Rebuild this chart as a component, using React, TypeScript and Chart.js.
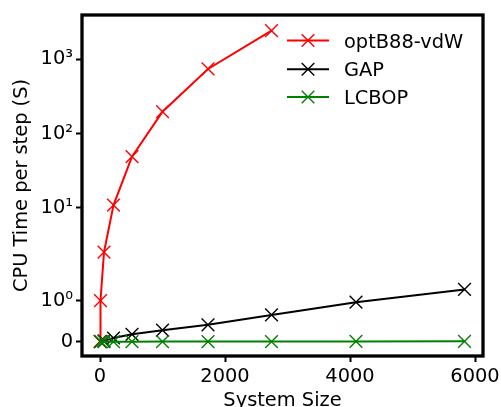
import React, { useEffect, useRef } from 'react';
import { Chart, LinearScale, registerables } from 'chart.js';

// ---------- data ----------
const SERIES_LABELS = ['optB88-vdW', 'GAP', 'LCBOP'];
const SERIES_COLORS = ['#ff0000', '#000000', '#008000'];

const dftSizes = [1, 8, 64, 216, 512, 1000, 1728, 2744];
const dftTimes = [0.01, 1.0, 2.5, 10.8, 48.7, 197, 743, 2440];

const potSizes = [8, 64, 216, 512, 1000, 1728, 2744, 4096, 5832];
const gapTimes = [0.003, 0.02, 0.09, 0.18, 0.28, 0.41, 0.65, 0.96, 1.27];
const lcbopTimes = [0.0001, 0.0003, 0.0008, 0.001, 0.002, 0.003, 0.004, 0.006, 0.008];

const X_TICKS = [0, 2000, 4000, 6000];
const Y_TICKS = [0, 1, 10, 100, 1000];
const Y_TICK_LABELS = ['0', '10⁰', '10¹', '10²', '10³'];

const X_TITLE = 'System Size';
const Y_TITLE = 'CPU Time per step (S)';

// ---------- symlog scale (linthresh 2, base 10, linscale 1) ----------
const LINTHRESH = 2;
const LINSCALE_ADJ = 1 / (1 - 1 / 10);
function symlog(v: number) {
  const a = Math.abs(v);
  if (a <= LINTHRESH) return (v / LINTHRESH) * LINSCALE_ADJ;
  return Math.sign(v) * (LINSCALE_ADJ + Math.log10(a / LINTHRESH));
}
function symexp(t: number) {
  const a = Math.abs(t);
  if (a <= LINSCALE_ADJ) return (t / LINSCALE_ADJ) * LINTHRESH;
  return Math.sign(t) * LINTHRESH * Math.pow(10, a - LINSCALE_ADJ);
}

class SymlogScale extends LinearScale {
  static id = 'symlog';
  static defaults = {};
  buildTicks() {
    return Y_TICKS.map((v) => ({ value: v }));
  }
  getPixelForValue(value: number) {
    if (value === null || value === undefined || isNaN(value)) return NaN;
    const t0 = symlog((this as any).min);
    const t1 = symlog((this as any).max);
    return this.getPixelForDecimal((symlog(value) - t0) / (t1 - t0));
  }
  getValueForPixel(pixel: number) {
    const t0 = symlog((this as any).min);
    const t1 = symlog((this as any).max);
    return symexp(t0 + this.getDecimalForPixel(pixel) * (t1 - t0));
  }
}

Chart.register(...registerables, SymlogScale as any);

const FONT_FAMILY = "'DejaVu Sans', 'Liberation Sans', sans-serif";
const FONT_SIZE = 19.4;

const frameAndLegend = {
  id: 'frameAndLegend',
  afterDatasetsDraw(chart: any) {
    const { ctx, chartArea } = chart;
    ctx.save();
    ctx.strokeStyle = '#000';
    ctx.lineWidth = 3.3;
    ctx.strokeRect(chartArea.left, chartArea.top, chartArea.right - chartArea.left, chartArea.bottom - chartArea.top);

    // legend (line + marker + text), matplotlib style
    const x0 = 287;
    const x1 = 329;
    const rowY = [40.5, 69.3, 97];
    ctx.font = `${FONT_SIZE}px ${FONT_FAMILY}`;
    ctx.textAlign = 'left';
    ctx.textBaseline = 'alphabetic';
    chart.data.datasets.forEach((ds: any, i: number) => {
      const y = rowY[i];
      ctx.strokeStyle = ds.borderColor;
      ctx.lineWidth = 2;
      ctx.beginPath();
      ctx.moveTo(x0, y);
      ctx.lineTo(x1, y);
      ctx.stroke();
      const cx = (x0 + x1) / 2;
      const h = 6.3;
      ctx.lineWidth = 1.4;
      ctx.beginPath();
      ctx.moveTo(cx - h, y - h);
      ctx.lineTo(cx + h, y + h);
      ctx.moveTo(cx - h, y + h);
      ctx.lineTo(cx + h, y - h);
      ctx.stroke();
      ctx.fillStyle = '#000';
      ctx.fillText(ds.label, 344, y + 7);
    });
    ctx.restore();
  },
};

function makeDataset(i: number, xs: number[], ys: number[], order: number) {
  return {
    label: SERIES_LABELS[i],
    data: xs.map((x, k) => ({ x, y: ys[k] })),
    borderColor: SERIES_COLORS[i],
    backgroundColor: SERIES_COLORS[i],
    pointBorderColor: SERIES_COLORS[i],
    pointBackgroundColor: SERIES_COLORS[i],
    pointStyle: 'crossRot',
    pointRadius: 9,
    pointBorderWidth: 1.4,
    borderWidth: 2,
    fill: false,
    tension: 0,
    order,
  };
}

export default function App() {
  const ref = useRef<HTMLCanvasElement>(null);
  useEffect(() => {
    if (!ref.current) return;
    const chart = new Chart(ref.current, {
      type: 'line',
      data: {
        datasets: [
          makeDataset(0, dftSizes, dftTimes, 2),
          makeDataset(1, potSizes, gapTimes, 1),
          makeDataset(2, potSizes, lcbopTimes, 0),
        ] as any,
      },
      options: {
        animation: false,
        responsive: false,
        events: [],
        layout: { padding: { left: 0, top: 15, right: 18, bottom: 0 } },
        plugins: { legend: { display: false }, tooltip: { enabled: false } },
        scales: {
          x: {
            type: 'linear',
            min: -288,
            max: 6128,
            afterBuildTicks: (s: any) => {
              s.ticks = X_TICKS.map((v) => ({ value: v }));
            },
            afterFit: (s: any) => {
              s.height = 51;
              s.paddingLeft = 0;
              s.paddingRight = 0;
            },
            border: { display: false },
            grid: {
              display: true,
              drawOnChartArea: false,
              drawTicks: true,
              tickLength: 6,
              tickWidth: 2,
              tickColor: '#000',
            },
            ticks: {
              autoSkip: false,
              maxRotation: 0,
              padding: 3,
              color: '#000',
              font: { family: FONT_FAMILY, size: FONT_SIZE },
              callback: (v: any) => String(v),
            },
            title: {
              display: true,
              text: X_TITLE,
              color: '#000',
              font: { family: FONT_FAMILY, size: FONT_SIZE },
              padding: { top: 0, bottom: -6 },
            },
          },
          y: {
            type: 'symlog' as any,
            min: symexp(-0.193),
            max: symexp(4.409),
            afterFit: (s: any) => {
              s.width = 82;
              s.paddingTop = 0;
              s.paddingBottom = 0;
            },
            border: { display: false },
            grid: {
              display: true,
              drawOnChartArea: false,
              drawTicks: true,
              tickLength: 6,
              tickWidth: 2,
              tickColor: '#000',
            },
            ticks: {
              autoSkip: false,
              padding: 3,
              color: '#000',
              font: { family: FONT_FAMILY, size: FONT_SIZE },
              callback: (v: any) => {
                const idx = Y_TICKS.indexOf(Number(v));
                return idx >= 0 ? Y_TICK_LABELS[idx] : '';
              },
            },
            title: {
              display: true,
              text: Y_TITLE,
              color: '#000',
              font: { family: FONT_FAMILY, size: FONT_SIZE },
              padding: { top: 10, bottom: 0 },
            },
          },
        },
      } as any,
      plugins: [frameAndLegend],
    });
    return () => chart.destroy();
  }, []);

  return (
    <div style={{ position: 'absolute', left: 0, top: 0, width: 501, height: 407, background: '#fff' }}>
      <canvas ref={ref} width={501} height={407} style={{ display: 'block', width: 501, height: 407 }} />
    </div>
  );
}
